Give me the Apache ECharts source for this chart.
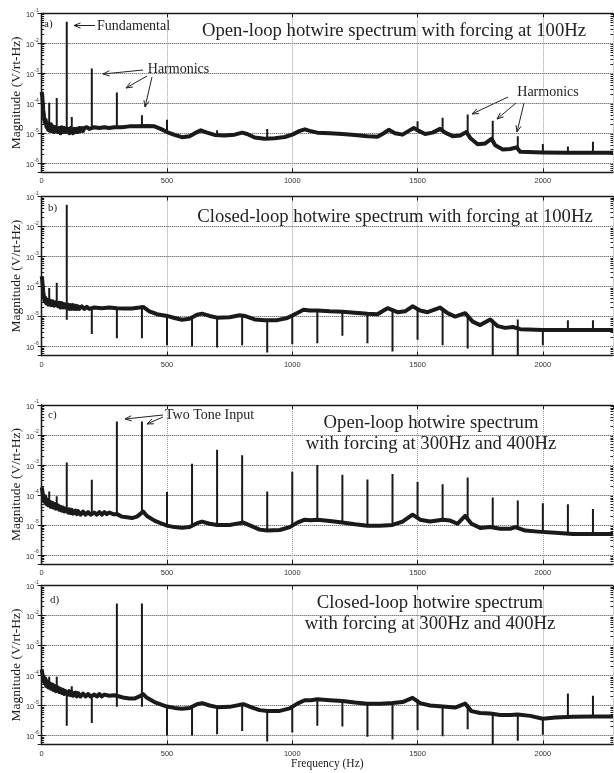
<!DOCTYPE html>
<html>
<head>
<meta charset="utf-8">
<script src="https://cdn.jsdelivr.net/npm/echarts@6/dist/echarts.min.js"></script>
<style>
  html, body { margin: 0; padding: 0; background: #fff; }
  #spec { width: 614px; height: 773px; }
</style>
</head>
<body>
<div id="spec"></div>
<script>
// values: [frequency Hz, magnitude V/rt-Hz]
var baseA = [[0,2.4e-4],[2,1.8e-4],[4,1.1e-4],[6,6e-5],[8,4.5e-5],[10,3e-5],[13,2.2e-5],[16,2.8e-5],[19,1.6e-5],[22,2.2e-5],[25,1.3e-5],[28,1.9e-5],[33,1.2e-5],[37,2e-5],[41,1.2e-5],[45,1.7e-5],[50,1.1e-5],[55,1.6e-5],[65,1.1e-5],[70,1.5e-5],[75,1e-5],[80,1.6e-5],[85,1.1e-5],[90,1.5e-5],[95,1.1e-5],[105,1.4e-5],[110,1e-5],[115,1.5e-5],[125,1e-5],[130,1.4e-5],[135,1.1e-5],[140,1.4e-5],[145,1.1e-5],[150,1.5e-5],[155,1.2e-5],[160,1.5e-5],[165,1.2e-5],[170,1.5e-5],[175,1.3e-5],[180,1.6e-5],[190,1.4e-5],[210,1.6e-5],[230,1.5e-5],[250,1.6e-5],[270,1.5e-5],[290,1.6e-5],[320,1.6e-5],[350,1.7e-5],[380,1.7e-5],[420,1.75e-5],[450,1.7e-5],[475,1.4e-5],[500,1.1e-5],[530,8.8e-6],[560,7.4e-6],[590,8e-6],[615,1.05e-5],[635,1.25e-5],[660,1.05e-5],[690,8.8e-6],[730,8.5e-6],[770,9e-6],[800,1.05e-5],[820,9.5e-6],[850,7.2e-6],[890,6.6e-6],[930,6.8e-6],[970,7.5e-6],[1000,9e-6],[1030,1.2e-5],[1050,1.35e-5],[1070,1.2e-5],[1100,1.05e-5],[1150,1e-5],[1200,9.5e-6],[1250,8.8e-6],[1300,8e-6],[1340,7.6e-6],[1365,1e-5],[1385,1.3e-5],[1410,1e-5],[1440,9e-6],[1465,1.2e-5],[1485,1.5e-5],[1505,1.2e-5],[1530,9.5e-6],[1560,1.05e-5],[1590,1.4e-5],[1610,1.05e-5],[1640,8e-6],[1670,8.5e-6],[1695,1.1e-5],[1710,7e-6],[1740,4.3e-6],[1770,4.6e-6],[1795,6.5e-6],[1810,4e-6],[1840,2.9e-6],[1870,3e-6],[1895,3.4e-6],[1910,2.4e-6],[2000,2.3e-6],[2100,2.25e-6],[2200,2.25e-6],[2280,2.25e-6]];
// spikes: [frequency, start, end]
var spikeA = [[30,1.9e-5,1.05e-4],[60,1.3e-5,1.5e-4],[100,1.3e-5,5.2e-2],[120,1.2e-5,3.5e-5],[200,1.5e-5,1.45e-3],[300,1.6e-5,2.3e-4],[400,1.7e-5,4e-5],[500,1.1e-5,2.8e-5],[700,8.8e-6,1.25e-5],[900,6.6e-6,1.4e-5],[1500,1.3e-5,2.5e-5],[1600,1.2e-5,3.3e-5],[1700,1e-5,4.2e-5],[1800,6e-6,2.6e-5],[1900,2.8e-6,8e-6],[2000,2.3e-6,4.4e-6],[2100,2.25e-6,3.6e-6],[2200,2.25e-6,5.2e-6]];

var baseB = [[0,2.2e-4],[2,1.7e-4],[4,1.1e-4],[6,7e-5],[9,4.5e-5],[12,3.2e-5],[15,4.2e-5],[18,2.8e-5],[22,3.6e-5],[26,2.5e-5],[33,3.4e-5],[38,2.4e-5],[44,3.2e-5],[50,2.3e-5],[55,3e-5],[65,2.2e-5],[70,2.9e-5],[75,2e-5],[80,2.8e-5],[85,2e-5],[90,2.6e-5],[95,2e-5],[105,2.5e-5],[110,1.8e-5],[115,2.4e-5],[120,1.8e-5],[125,2.4e-5],[130,1.8e-5],[135,2.3e-5],[140,1.8e-5],[145,2.2e-5],[150,1.8e-5],[160,2.2e-5],[170,1.8e-5],[180,2.1e-5],[190,1.8e-5],[210,2e-5],[240,1.9e-5],[270,2e-5],[300,1.9e-5],[330,1.85e-5],[360,1.85e-5],[390,2e-5],[405,2.1e-5],[430,1.5e-5],[460,1.2e-5],[500,1.05e-5],[530,9e-6],[560,7.8e-6],[590,8.5e-6],[620,1.15e-5],[640,1.25e-5],[670,1.05e-5],[700,9.2e-6],[750,9.5e-6],[790,1.1e-5],[810,1.05e-5],[850,8e-6],[890,7.5e-6],[940,7.6e-6],[980,9e-6],[1010,1.2e-5],[1045,1.7e-5],[1070,1.6e-5],[1100,1.6e-5],[1150,1.5e-5],[1200,1.45e-5],[1250,1.35e-5],[1300,1.25e-5],[1340,1.2e-5],[1380,1.9e-5],[1420,1.4e-5],[1450,1.5e-5],[1480,2.2e-5],[1510,1.6e-5],[1540,1.4e-5],[1590,2e-5],[1620,1.3e-5],[1650,1e-5],[1690,1.3e-5],[1720,6.8e-6],[1750,5.2e-6],[1790,8e-6],[1820,4.8e-6],[1850,4.2e-6],[1880,4.5e-6],[1910,3.8e-6],[2000,3.6e-6],[2100,3.6e-6],[2200,3.6e-6],[2280,3.6e-6]];
var spikeB = [[30,2.5e-5,9e-5],[60,2.2e-5,1.35e-4],[100,7.8e-6,5.4e-2],[200,1.9e-5,2.6e-6],[300,1.9e-5,1.9e-6],[400,2e-5,1.9e-6],[500,1.05e-5,1.1e-6],[600,1e-5,1e-6],[700,9.2e-6,9.3e-7],[800,1.1e-5,1.1e-6],[900,7.5e-6,6.3e-7],[1000,1e-5,1.2e-6],[1100,1.6e-5,1.3e-6],[1200,1.45e-5,2.3e-6],[1300,1.25e-5,1.3e-6],[1400,1.6e-5,6.8e-7],[1500,2e-5,1.7e-6],[1600,1.8e-5,1.1e-6],[1700,1.2e-5,8.7e-7],[1800,8e-6,5e-7],[1900,8e-6,5e-7],[2000,3.6e-6,1.1e-6],[2100,3.6e-6,7.5e-6],[2200,3.6e-6,7.5e-6]];

var baseC = [[0,1.8e-4],[2,1.5e-4],[4,1.1e-4],[7,7e-5],[10,6e-5],[14,9e-5],[18,5e-5],[22,7e-5],[26,4.5e-5],[32,6e-5],[37,4e-5],[42,5.5e-5],[47,3.8e-5],[52,5e-5],[57,3.5e-5],[65,4.5e-5],[70,3.2e-5],[75,4e-5],[80,3e-5],[85,3.8e-5],[90,2.8e-5],[95,3.5e-5],[105,2.6e-5],[110,3.3e-5],[115,2.5e-5],[120,3.2e-5],[125,2.4e-5],[135,3e-5],[140,2.3e-5],[145,2.9e-5],[155,2.2e-5],[165,2.8e-5],[175,2.2e-5],[185,2.7e-5],[195,2.2e-5],[210,2.6e-5],[220,2.2e-5],[230,2.7e-5],[240,2.2e-5],[250,2.7e-5],[260,2.3e-5],[270,2.6e-5],[285,2.3e-5],[300,2.3e-5],[320,1.9e-5],[340,1.8e-5],[360,1.7e-5],[380,1.9e-5],[395,2.4e-5],[405,2.8e-5],[420,2e-5],[450,1.4e-5],[480,1.1e-5],[500,9.5e-6],[530,8.5e-6],[560,8e-6],[590,8.5e-6],[620,1.15e-5],[640,1.3e-5],[670,1.1e-5],[700,1e-5],[750,1e-5],[790,1.15e-5],[805,1.2e-5],[840,9e-6],[870,7e-6],[900,6.5e-6],[950,6.8e-6],[990,8.5e-6],[1020,1.2e-5],[1050,1.5e-5],[1075,1.45e-5],[1100,1.5e-5],[1150,1.35e-5],[1200,1.2e-5],[1250,1.05e-5],[1300,9.5e-6],[1350,9.5e-6],[1400,1e-5],[1440,1.3e-5],[1480,2.2e-5],[1510,1.5e-5],[1550,1.3e-5],[1600,1.5e-5],[1630,1.4e-5],[1660,1.1e-5],[1690,2e-5],[1715,1.1e-5],[1750,8e-6],[1790,8.5e-6],[1830,7.5e-6],[1870,7.5e-6],[1890,8.5e-6],[1930,6.5e-6],[1980,6e-6],[2050,5.5e-6],[2120,5e-6],[2200,5e-6],[2280,5e-6]];
var spikeC = [[30,6e-5,1.3e-4],[60,5e-5,9e-5],[100,3e-5,1.2e-3],[200,2.4e-5,3.2e-4],[300,2.3e-5,2.8e-2],[400,2.6e-5,2.8e-2],[500,9.5e-6,1.25e-4],[600,9e-6,1.1e-3],[700,1e-5,3.2e-3],[800,1.2e-5,2.1e-3],[900,6.5e-6,1.3e-4],[1000,9.5e-6,6e-4],[1100,1.5e-5,1e-3],[1200,1.2e-5,4.7e-4],[1300,9.5e-6,3.3e-4],[1400,1e-5,5e-4],[1500,1.8e-5,2.7e-4],[1600,1.5e-5,2.3e-4],[1700,1.5e-5,3.8e-4],[1800,8.5e-6,8.3e-5],[1900,7e-6,6.5e-5],[2000,6e-6,5.3e-5],[2100,5e-6,4.9e-5],[2200,5e-6,3.4e-5]];

var baseD = [[0,1.6e-4],[2,1.4e-4],[4,1e-4],[7,7e-5],[10,6e-5],[14,8e-5],[18,4.5e-5],[22,6.5e-5],[26,4e-5],[32,5.5e-5],[37,3.6e-5],[42,5e-5],[47,3.3e-5],[52,4.5e-5],[57,3e-5],[65,4e-5],[70,2.8e-5],[75,3.6e-5],[80,2.6e-5],[85,3.3e-5],[90,2.4e-5],[95,3e-5],[105,2.3e-5],[110,3e-5],[115,2.2e-5],[120,2.8e-5],[125,2.1e-5],[135,2.7e-5],[140,2e-5],[145,2.6e-5],[155,2e-5],[165,2.5e-5],[175,2e-5],[185,2.4e-5],[195,2e-5],[210,2.3e-5],[220,2e-5],[230,2.4e-5],[240,2e-5],[250,2.3e-5],[270,2.1e-5],[290,2.2e-5],[310,2e-5],[330,1.8e-5],[350,1.7e-5],[370,1.7e-5],[390,2e-5],[405,2.4e-5],[420,1.8e-5],[450,1.3e-5],[480,1.05e-5],[500,9.2e-6],[530,8.3e-6],[560,7.8e-6],[590,8.2e-6],[620,1.1e-5],[640,1.2e-5],[670,1e-5],[700,8.8e-6],[750,9e-6],[790,1.05e-5],[805,1.1e-5],[840,8.5e-6],[870,7e-6],[900,6.5e-6],[950,6.6e-6],[990,8e-6],[1020,1.15e-5],[1050,1.5e-5],[1075,1.5e-5],[1100,1.6e-5],[1150,1.5e-5],[1200,1.4e-5],[1250,1.25e-5],[1300,1.15e-5],[1350,1.15e-5],[1400,1.2e-5],[1440,1.3e-5],[1480,1.8e-5],[1510,1.2e-5],[1550,1e-5],[1600,9.3e-6],[1650,8.5e-6],[1690,1.15e-5],[1715,6.5e-6],[1750,5.6e-6],[1790,5.4e-6],[1830,4.8e-6],[1870,4.8e-6],[1900,5e-6],[1950,4.5e-6],[2000,3.6e-6],[2050,4e-6],[2120,4.2e-6],[2200,4.3e-6],[2280,4.3e-6]];
var spikeD = [[30,5.5e-5,9e-5],[60,4e-5,9e-5],[100,2.4e-5,2.1e-6],[120,2.8e-5,4.4e-5],[200,2.2e-5,2.6e-6],[300,9e-6,2.5e-2],[400,9e-6,2.5e-2],[500,9.2e-6,1e-6],[600,1e-5,1e-6],[700,8.8e-6,1.1e-6],[800,1.05e-5,1.4e-6],[900,6.5e-6,6.3e-7],[1000,8.5e-6,1.25e-6],[1100,1.6e-5,2.1e-6],[1200,1.4e-5,2e-6],[1300,1.15e-5,9e-7],[1400,1.2e-5,7.3e-7],[1500,1.6e-5,1.5e-6],[1600,9.3e-6,9.5e-7],[1700,1.1e-5,1.6e-6],[1800,5.4e-6,5e-7],[1900,5e-6,6.7e-7],[2000,3.6e-6,1.05e-6],[2100,4.2e-6,2.5e-5],[2200,4.3e-6,2.1e-5]];

var panelTitles = [
  'Open-loop hotwire spectrum with forcing at 100Hz',
  'Closed-loop hotwire spectrum with forcing at 100Hz',
  'Open-loop hotwire spectrum\nwith forcing at 300Hz and 400Hz',
  'Closed-loop hotwire spectrum\nwith forcing at 300Hz and 400Hz'
];
var panelLetters = ['a)', 'b)', 'c)', 'd)'];
var bases = [baseA, baseB, baseC, baseD];
var spikes = [spikeA, spikeB, spikeC, spikeD];

var freqMax = 2280, freqStep = 500;
var magMin = 5e-7, magMax = 0.1;

var serif = '"Liberation Serif", "DejaVu Serif", serif';
var sans = '"Liberation Sans", Arial, sans-serif';
var ink = '#1a1a1a';

var gridTops = [13.3, 196.6, 405, 585.5];
var titlePos = [[394, 20], [395, 206], [431, 412], [430, 592]];
var letterPos = [[44, 24], [48, 208], [48, 415], [50, 600]];

// MATLAB style minor ticks (2..9 of each decade), in log10 units
var minorLogs = [];
for (var e = -7; e < -1; e++) {
  for (var k = 2; k < 10; k++) {
    var lv = e + Math.log10(k);
    if (lv > Math.log10(magMin) && lv < -1) minorLogs.push(lv);
  }
}

function spikeData(list) {
  var d = [];
  list.forEach(function (s) {
    d.push([s[0], s[1]], [s[0], s[2]], [s[0], '-']);
  });
  return d;
}

function powLabel(v) {
  var l = Math.log10(v), p = Math.round(l);
  if (Math.abs(l - p) > 1e-6) return '';
  return '{b|10}{s|' + p + '}';
}

function arrow(x1, y1, x2, y2) {
  var a = Math.atan2(y2 - y1, x2 - x1), L = 7, w = 0.38;
  return {
    type: 'group',
    children: [
      { type: 'line', shape: { x1: x1, y1: y1, x2: x2, y2: y2 }, style: { stroke: '#222', lineWidth: 1 } },
      { type: 'polyline', shape: { points: [
          [x2 - L * Math.cos(a - w), y2 - L * Math.sin(a - w)], [x2, y2],
          [x2 - L * Math.cos(a + w), y2 - L * Math.sin(a + w)]] },
        style: { stroke: '#222', lineWidth: 1, fill: null } }
    ]
  };
}

function note(text, x, y, align) {
  return { type: 'text', x: x, y: y, style: { text: text, font: '14px ' + serif, fill: '#222',
    align: align || 'left', verticalAlign: 'middle', textAlign: align || 'left', textVerticalAlign: 'middle' } };
}

var grids = [], xAxes = [], yAxes = [], series = [], titles = [], graphics = [];

for (var i = 0; i < 4; i++) {
  grids.push({ left: 41.7, top: gridTops[i], width: 571.3, height: 159, outerBoundsMode: 'none', containLabel: false });
  xAxes.push({
    type: 'value', gridIndex: i, min: 0, max: freqMax, interval: freqStep, position: 'bottom',
    name: i === 3 ? 'Frequency (Hz)' : '', nameLocation: 'middle', nameGap: 13, nameMoveOverlap: false,
    nameTextStyle: { fontFamily: serif, fontSize: 11.5, color: ink },
    axisLine: { lineStyle: { color: ink, width: 1.3 } },
    axisTick: { inside: true, length: 4, lineStyle: { color: ink } },
    axisLabel: { fontFamily: sans, fontSize: 7.5, color: '#333', margin: 5, showMaxLabel: false,
      formatter: function (v) { return String(v); } },
    splitLine: { show: true, lineStyle: { type: 'dotted', color: '#9a9a9a', width: 1 } }
  });
  xAxes.push({
    type: 'value', gridIndex: i, min: 0, max: freqMax, interval: freqStep, position: 'top',
    axisLine: { lineStyle: { color: ink, width: 1.3 } },
    axisTick: { inside: true, length: 4, lineStyle: { color: ink } },
    axisLabel: { show: false }, splitLine: { show: false }
  });
  yAxes.push({
    type: 'log', logBase: 10, gridIndex: i, min: magMin, max: magMax, position: 'left',
    name: 'Magnitude (V/rt-Hz)', nameLocation: 'middle', nameGap: 18, nameMoveOverlap: false,
    nameTextStyle: { fontFamily: serif, fontSize: 13.5, color: ink },
    axisLine: { lineStyle: { color: ink, width: 1.3 } },
    axisTick: { inside: true, length: 4, lineStyle: { color: ink } },
    axisLabel: {
      margin: 3, showMinLabel: false, formatter: powLabel,
      rich: {
        b: { fontFamily: sans, fontSize: 7.5, color: '#333', lineHeight: 11, verticalAlign: 'bottom' },
        s: { fontFamily: sans, fontSize: 5, color: '#333', verticalAlign: 'top' }
      }
    },
    splitLine: { show: true, lineStyle: { type: 'dotted', color: '#444', width: 1 } }
  });
  yAxes.push({
    type: 'log', logBase: 10, gridIndex: i, min: magMin, max: magMax, position: 'right',
    axisLine: { lineStyle: { color: ink, width: 1.3 } },
    axisTick: { inside: true, length: 4, lineStyle: { color: ink } },
    axisLabel: { show: false }, splitLine: { show: false }
  });
  // minor tick rulers (left and right), log10 units over the same span
  ['left', 'right'].forEach(function (side) {
    yAxes.push({
      type: 'value', gridIndex: i, min: Math.log10(magMin), max: -1, position: side, offset: 0,
      axisLine: { show: false },
      axisTick: { show: true, inside: true, length: 2.5, customValues: minorLogs, lineStyle: { color: ink } },
      axisLabel: { show: false }, splitLine: { show: false }
    });
  });
  series.push({
    type: 'line', xAxisIndex: 2 * i, yAxisIndex: 4 * i, data: bases[i],
    symbol: 'none', silent: true, lineStyle: { color: ink, width: 4, join: 'round' }
  });
  series.push({
    type: 'line', xAxisIndex: 2 * i, yAxisIndex: 4 * i, data: spikeData(spikes[i]),
    symbol: 'none', silent: true, connectNulls: false, lineStyle: { color: ink, width: 2 }
  });
  titles.push({
    text: panelTitles[i], left: titlePos[i][0], top: titlePos[i][1], textAlign: 'center', padding: 0,
    textStyle: { fontFamily: serif, fontSize: 18.7, fontWeight: 'normal', color: '#222', lineHeight: 21.5 }
  });
  graphics.push({ type: 'text', x: letterPos[i][0], y: letterPos[i][1],
    style: { text: panelLetters[i], font: '11px ' + serif, fill: '#222', verticalAlign: 'middle', textVerticalAlign: 'middle' } });
}

// annotations
graphics.push(note('Fundamental', 97, 26));
graphics.push(arrow(95, 25.5, 74, 25.5));
graphics.push(note('Harmonics', 178.5, 69, 'center'));
graphics.push(arrow(143, 70, 103, 74));
graphics.push(arrow(147, 76, 126, 88));
graphics.push(arrow(152, 77, 145, 107));
graphics.push(note('Harmonics', 548, 92, 'center'));
graphics.push(arrow(508, 97, 472, 114));
graphics.push(arrow(516, 103, 497, 119));
graphics.push(arrow(524, 103, 517, 132));
graphics.push(note('Two Tone Input', 165, 415));
graphics.push(arrow(163, 415, 125, 419));
graphics.push(arrow(163, 417, 147, 424));

var chart = echarts.init(document.getElementById('spec'));
chart.setOption({
  animation: false,
  backgroundColor: '#fff',
  title: titles,
  grid: grids,
  xAxis: xAxes,
  yAxis: yAxes,
  series: series,
  graphic: graphics
});
</script>
</body>
</html>
